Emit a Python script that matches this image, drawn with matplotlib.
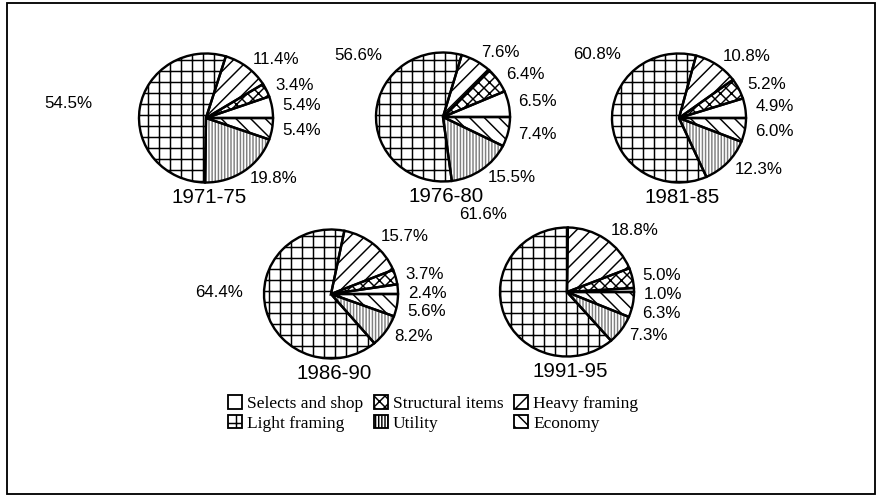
import numpy as np
import matplotlib.pyplot as plt
from matplotlib.patches import Patch, Rectangle

# lumber grade yield shares by period (percent)
periods = ['1971-75', '1976-80', '1981-85', '1986-90', '1991-95']
heavy = [11.4, 7.6, 10.8, 15.7, 18.8]
structural = [3.4, 6.4, 5.2, 3.7, 5.0]
selects = [5.4, 6.5, 4.9, 2.4, 1.0]
economy = [5.4, 7.4, 6.0, 5.6, 6.3]
utility = [19.8, 15.5, 12.3, 8.2, 7.3]
light = [54.5, 56.6, 60.8, 64.4, 61.6]

# layout (image pixels) and hatch styles
W, H, DPI = 877, 497, 132
centers = [(206, 118), (443, 117), (679, 118), (331, 294), (567, 292)]
RX, RY = 67, 64.5
light_label_pos = [(-1.70, 0.23), (-0.90, 0.96), (-0.86, 0.98), (-1.32, 0.03), (-0.90, 1.20)]
hatches = ['///', 'xxxx', '', '\\\\\\', '|||||||', '++']
hatch_cols = ['black', 'black', 'black', 'black', '0.5', 'black']

plt.rcParams['hatch.linewidth'] = 0.8
sans = 'Liberation Sans'
serif = 'Liberation Serif'

fig = plt.figure(figsize=(W / DPI, H / DPI), dpi=DPI)

for i, per in enumerate(periods):
    cx, cy = centers[i]
    ax = fig.add_axes([(cx - 2 * RX) / W, (H - cy - 2 * RY) / H, 4 * RX / W, 4 * RY / H])
    vals = [heavy[i], structural[i], selects[i], economy[i], utility[i], light[i]]
    tot = sum(vals)
    start = 360.0 * (heavy[i] + structural[i] + selects[i]) / tot

    wedges, _ = ax.pie(vals, startangle=start, counterclock=False,
                       colors=['white'] * 6, wedgeprops=dict(linewidth=0))
    for w, h, hc in zip(wedges, hatches, hatch_cols):
        w.set_hatch(h)
        w.set_edgecolor(hc)
        w.set_linewidth(0)
    ax.pie(vals, startangle=start, counterclock=False,
           wedgeprops=dict(fill=False, edgecolor='black', linewidth=1.3))

    # right-hand labels, pushed apart when slices are thin
    cum = 0.0
    prev_y = None
    for v in vals[:5]:
        mid = np.deg2rad(start - 360.0 * (cum + v / 2) / tot)
        cum += v
        x, y = 1.15 * np.cos(mid), 1.15 * np.sin(mid)
        if prev_y is not None and y > prev_y - 0.29:
            y = prev_y - 0.29
        prev_y = y
        ax.text(x, y, '%.1f%%' % v, ha='left', va='center', fontsize=9.2, family=sans)
    lx, ly = light_label_pos[i]
    ax.text(lx, ly, '%.1f%%' % light[i], ha='right', va='center', fontsize=9.2, family=sans)

    ax.text(0.05, -1.23, per, ha='center', va='center', fontsize=11.2, family=sans)
    ax.set_xlim(-2, 2)
    ax.set_ylim(-2, 2)
    ax.set_aspect('auto')
    ax.axis('off')

names = ['Selects and shop', 'Light framing', 'Structural items', 'Utility',
         'Heavy framing', 'Economy']
order = [2, 5, 1, 4, 0, 3]
handles = [Patch(facecolor='white', edgecolor='black', hatch=hatches[k], linewidth=1.0) for k in order]
fig.legend(handles, names, ncol=3, loc='center', bbox_to_anchor=(433 / W, (H - 413.5) / H),
           frameon=False, prop={'family': serif, 'size': 9.5},
           handlelength=0.8, handleheight=0.8, handletextpad=0.3,
           columnspacing=0.6, labelspacing=0.15, borderpad=0)

# outer frame
fig.add_artist(Rectangle((6.5 / W, 3 / H), (875 - 6.5) / W, (494 - 3) / H,
                         transform=fig.transFigure, fill=False, edgecolor='black', linewidth=1.0))

fig.savefig('out.png', dpi=DPI)
